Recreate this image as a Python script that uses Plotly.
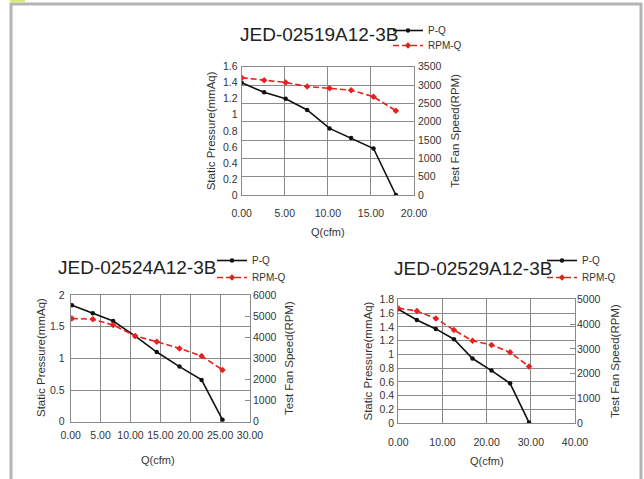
import plotly.graph_objects as go

W, H = 644, 479

# ---- data ----
titles = ["JED-02519A12-3B", "JED-02524A12-3B", "JED-02529A12-3B"]

q1 = [0.0, 2.6, 5.1, 7.6, 10.2, 12.7, 15.3, 17.9]
p1 = [1.40, 1.28, 1.20, 1.06, 0.83, 0.71, 0.58, 0.0]
rpm1 = [3200, 3130, 3070, 2960, 2910, 2860, 2680, 2300]

q2 = [0.2, 3.7, 7.1, 10.8, 14.4, 18.2, 21.9, 25.4]
p2 = [1.84, 1.71, 1.59, 1.35, 1.10, 0.87, 0.66, 0.03]
rpm2 = [4890, 4850, 4580, 4060, 3790, 3470, 3110, 2450]

q3 = [0.0, 4.2, 8.5, 12.6, 16.8, 21.1, 25.3, 29.6]
p3 = [1.655, 1.50, 1.37, 1.22, 0.94, 0.765, 0.58, 0.01]
rpm3 = [4640, 4530, 4230, 3760, 3330, 3160, 2860, 2290]

series = [(q1, p1, rpm1), (q2, p2, rpm2), (q3, p3, rpm3)]

# ---- layout geometry (pixels) ----
plots = [  # left, right, top, bottom
    (241.7, 414.0, 66.7, 195.0),
    (70.7, 250.0, 295.0, 421.7),
    (398.3, 575.0, 299.3, 423.3),
]
xranges = [(0, 20, 5), (0, 30, 5), (0, 40, 10)]
yleft = [(0, 1.6, 0.2), (0, 2, 0.5), (0, 1.8, 0.2)]
yright = [(0, 3500, 500), (0, 6000, 1000), (0, 5000, 1000)]
grid_on_right = [True, False, False]
x_standoff = [8, 4, 9]
yl_standoff = [1, 3, 1]
yr_standoff = [3, 2, 1]

title_pos = [(319, 35), (137, 267), (473, 268)]
legend_text_x = [432, 256, 586]
legend_rows = [(30, 45), (260, 277), (260, 277)]
ytitle_l = [(210.5, 130.8), (41, 358), (367.5, 361)]
ytitle_r = [(455, 130.8), (289, 358), (615, 361)]
xtitle = [(328, 232), (158, 460), (487, 460.7)]

FONT = "Liberation Sans, Arial, sans-serif"
TXT = "#333333"
GRID = "#8a8a8a"

def px(x):
    return x / W

def py(y):
    return 1 - y / H

fig = go.Figure()
layout = dict(
    width=W, height=H,
    margin=dict(l=0, r=0, t=0, b=0, pad=0, autoexpand=False),
    paper_bgcolor="white", plot_bgcolor="white",
    font=dict(family=FONT, color=TXT, size=10),
    showlegend=True,
)
annotations = []
shapes = []

for i, (q, p, r) in enumerate(series):
    n = i + 1
    xa = f"x{n * 2 - 1}" if n > 1 else "x"
    xa_name = "xaxis" if n == 1 else f"xaxis{n * 2 - 1}"
    yl = "y" if n == 1 else f"y{n * 2 - 1}"
    yl_name = "yaxis" if n == 1 else f"yaxis{n * 2 - 1}"
    yr = f"y{n * 2}"
    yr_name = f"yaxis{n * 2}"
    legA = "legend" if i == 0 else f"legend{2 * i + 1}"
    legB = f"legend{2 * i + 2}"

    fig.add_trace(go.Scatter(
        x=q, y=p, xaxis=xa, yaxis=yl, name="P-Q", legend=legA,
        mode="lines+markers",
        line=dict(color="#111111", width=1.6),
        marker=dict(color="#111111", size=4.5, symbol="circle"),
    ))
    fig.add_trace(go.Scatter(
        x=q, y=r, xaxis=xa, yaxis=yr, name="RPM-Q", legend=legB,
        mode="lines+markers",
        line=dict(color="#e8211d", width=1.6, dash="6px,3px"),
        marker=dict(color="#e8211d", size=5, symbol="diamond"),
    ))

    L, R, T, B = plots[i]
    x0, x1, dx = xranges[i]
    layout[xa_name] = dict(
        domain=[px(L), px(R)], range=[x0, x1], dtick=dx, tick0=0,
        tickformat=".2f", anchor=yl, showgrid=True, gridcolor=GRID,
        gridwidth=1, showline=True, linecolor=GRID, linewidth=1,
        mirror=True, zeroline=False, ticks="", ticklen=0,
        ticklabelstandoff=x_standoff[i],
        tickfont=dict(size=10.5, color=TXT), fixedrange=True,
    )
    a0, a1, da = yleft[i]
    layout[yl_name] = dict(
        domain=[py(B), py(T)], range=[a0, a1], dtick=da, tick0=0,
        anchor=xa, showgrid=not grid_on_right[i], gridcolor=GRID,
        gridwidth=1, showline=True, linecolor=GRID, linewidth=1,
        mirror=True, zeroline=False, ticks="",
        ticklabelstandoff=yl_standoff[i],
        tickfont=dict(size=10.5, color=TXT), fixedrange=True,
    )
    b0, b1, db = yright[i]
    yr_dict = dict(
        overlaying=yl, side="right", anchor=xa, range=[b0, b1], dtick=db,
        tick0=0, showgrid=grid_on_right[i], gridcolor=GRID, gridwidth=1,
        zeroline=False, showline=False, ticklabelstandoff=yr_standoff[i],
        tickfont=dict(size=10.5, color=TXT), fixedrange=True,
    )
    if not grid_on_right[i]:
        yr_dict.update(ticks="inside", ticklen=5, tickcolor=GRID)
    layout[yr_name] = yr_dict

    tx = legend_text_x[i]
    for lg, ry in zip((legA, legB), legend_rows[i]):
        layout[lg] = dict(
            x=px(tx - 44), y=py(ry - 14), xanchor="left", yanchor="top",
            bgcolor="rgba(0,0,0,0)", font=dict(size=10, color=TXT),
            itemwidth=30, tracegroupgap=0,
        )

    tx, ty = title_pos[i]
    annotations.append(dict(
        x=px(tx), y=py(ty), xref="paper", yref="paper", text=titles[i],
        showarrow=False, font=dict(size=19, color="#222222"),
        xanchor="center", yanchor="middle",
    ))
    ax_, ay_ = ytitle_l[i]
    annotations.append(dict(
        x=px(ax_), y=py(ay_), xref="paper", yref="paper",
        text="Static Pressure(mmAq)", textangle=-90, showarrow=False,
        font=dict(size=11.5, color=TXT), xanchor="center", yanchor="middle",
    ))
    bx_, by_ = ytitle_r[i]
    annotations.append(dict(
        x=px(bx_), y=py(by_), xref="paper", yref="paper",
        text="Test Fan Speed(RPM)", textangle=-90, showarrow=False,
        font=dict(size=11.5, color=TXT), xanchor="center", yanchor="middle",
    ))
    cx_, cy_ = xtitle[i]
    annotations.append(dict(
        x=px(cx_), y=py(cy_), xref="paper", yref="paper",
        text="Q(cfm)", showarrow=False,
        font=dict(size=11, color=TXT), xanchor="center", yanchor="middle",
    ))

# outer frame
FR = "#b4b4b4"
shapes += [
    dict(type="line", xref="paper", yref="paper", x0=px(11), x1=px(11),
         y0=py(3), y1=py(479), line=dict(color=FR, width=3)),
    dict(type="line", xref="paper", yref="paper", x0=px(10), x1=px(642),
         y0=py(4), y1=py(4), line=dict(color=FR, width=3)),
    dict(type="line", xref="paper", yref="paper", x0=px(641), x1=px(641),
         y0=py(3), y1=py(479), line=dict(color=FR, width=3)),
    dict(type="rect", xref="paper", yref="paper", x0=px(10), x1=px(25),
         y0=py(0), y1=py(2.5), fillcolor="#d6ea84", line=dict(width=0)),
]

layout["annotations"] = annotations
layout["shapes"] = shapes
fig.update_layout(**layout)
fig.write_html(
    "out.html",
    config={"displayModeBar": False},
    post_script="document.body.style.margin='0';document.body.style.overflow='hidden';",
)
